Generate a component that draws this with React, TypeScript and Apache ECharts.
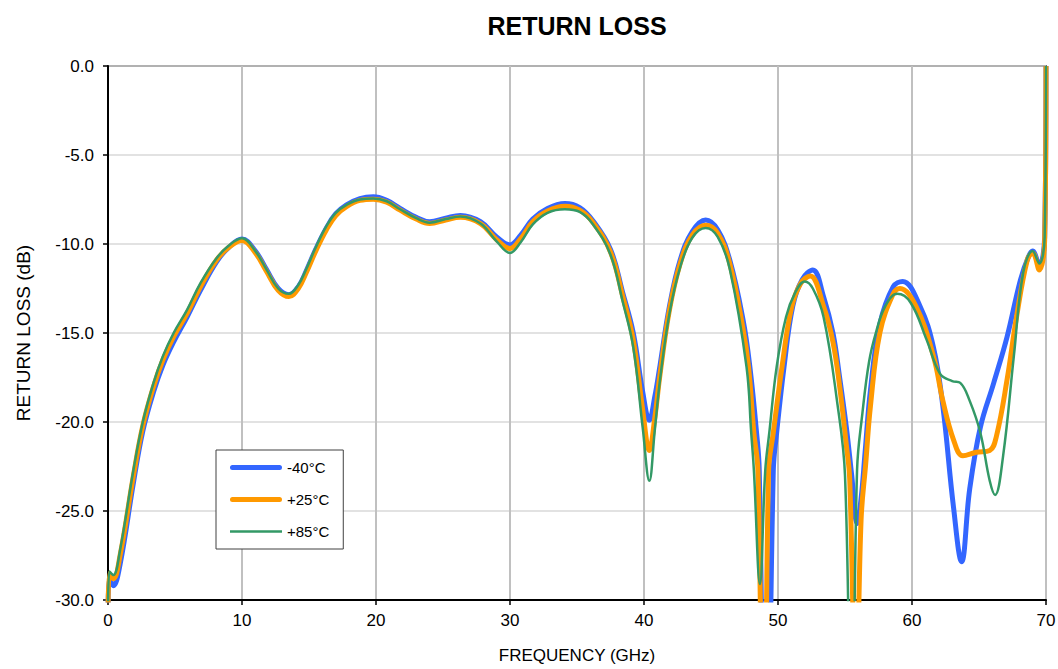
import React, { useEffect, useRef } from "react";
import * as echarts from "echarts";

const seriesNames = ["-40°C", "+25°C", "+85°C"];
const seriesColors = ["#3366FF", "#FF9900", "#339966"];
const xTicks = [0, 10, 20, 30, 40, 50, 60, 70];

const rlMinus40: [number, number][] = [
  [0, -31], [0.1, -28.7], [0.4, -29.2], [0.9, -28.0], [1.9, -23.4], [2.6, -20.5], [3.4, -18.3],
  [4.1, -16.8], [4.9, -15.5], [5.9, -14.1], [6.9, -12.6], [8.1, -11.0], [9.0, -10.2], [10.0, -9.72],
  [11.0, -10.4], [11.8, -11.4], [12.7, -12.5], [13.5, -12.85], [14.2, -12.4], [14.8, -11.5],
  [15.5, -10.3], [16.3, -9.1], [17.0, -8.3], [17.8, -7.8], [18.8, -7.45], [19.8, -7.35], [20.8, -7.55],
  [21.8, -8.0], [23.0, -8.5], [24.0, -8.75], [25.2, -8.55], [26.3, -8.4], [27.8, -8.75], [29.0, -9.6],
  [30.0, -10.05], [30.8, -9.5], [31.7, -8.6], [32.8, -8.0], [34.1, -7.72], [35.2, -7.95], [36.2, -8.7],
  [37.5, -10.3], [38.4, -12.7], [39.2, -15.0], [39.9, -18.3], [40.4, -19.9], [40.8, -18.6], [41.2, -16.8],
  [41.9, -13.5], [42.7, -10.9], [43.6, -9.3], [44.6, -8.65], [45.5, -9.2], [46.4, -10.9], [47.4, -14.3],
  [47.9, -16.9], [48.4, -20.6], [48.6, -22.7], [49.1, -45], [49.65, -22.7], [49.9, -20.6], [50.45, -16.9],
  [51.1, -13.5], [51.8, -12.0], [52.6, -11.46], [53.4, -12.96], [54.1, -15.0], [54.6, -17.5], [55.1, -20.3],
  [55.5, -23.0], [55.9, -25.7], [56.2, -24.3], [56.5, -21.7], [56.9, -18.2], [57.6, -14.5], [58.6, -12.4],
  [59.3, -12.1], [60.6, -13.5], [61.6, -15.8], [62.3, -19.1], [63.1, -24.8], [63.7, -27.85], [64.3, -23.8],
  [65.1, -20.3], [66.1, -17.8], [67.1, -15.2], [68.1, -12.0], [68.7, -10.7], [69.0, -10.4], [69.5, -11.2],
  [69.9, -9.6], [70, 0],
];

const rlPlus25: [number, number][] = [
  [0, -31], [0.1, -28.5], [0.4, -28.8], [0.9, -27.5], [1.9, -23.0], [2.6, -20.2], [3.4, -18.0],
  [4.1, -16.5], [4.9, -15.2], [5.9, -13.9], [6.9, -12.4], [8.1, -10.9], [9.0, -10.2], [10.0, -9.8],
  [11.0, -10.5], [11.8, -11.5], [12.7, -12.6], [13.5, -12.95], [14.2, -12.5], [14.8, -11.6],
  [15.5, -10.4], [16.3, -9.2], [17.0, -8.4], [17.8, -7.9], [18.8, -7.55], [19.8, -7.48], [20.8, -7.65],
  [21.8, -8.1], [23.0, -8.6], [24.0, -8.85], [25.2, -8.65], [26.3, -8.5], [27.8, -8.85], [29.0, -9.75],
  [30.0, -10.25], [30.8, -9.7], [31.7, -8.75], [32.8, -8.15], [34.1, -7.88], [35.2, -8.1], [36.2, -8.8],
  [37.5, -10.45], [38.4, -12.9], [39.2, -15.4], [39.9, -19.3], [40.4, -21.6], [40.8, -19.8], [41.2, -17.3],
  [41.9, -13.7], [42.7, -11.1], [43.6, -9.5], [44.6, -8.95], [45.5, -9.4], [46.4, -11.1], [47.4, -14.8],
  [47.8, -16.9], [48.2, -20.6], [48.5, -22.7], [48.95, -42], [49.3, -22.7], [49.65, -20.6], [50.3, -16.9],
  [51.0, -13.6], [51.7, -12.2], [52.4, -11.8], [53.4, -13.5], [54.1, -15.5], [54.6, -18.0], [55.1, -21.3],
  [55.35, -23.2], [55.82, -36], [56.2, -25.5], [56.55, -22.3], [56.9, -19.1], [57.6, -15.0], [58.6, -12.8],
  [59.1, -12.5], [60.3, -13.5], [61.6, -16.3], [62.3, -18.8], [63.1, -21.0], [63.8, -21.9], [64.8, -21.7],
  [65.8, -21.6], [66.3, -20.8], [67.1, -17.6], [67.8, -14.1], [68.6, -10.9], [69.0, -10.5], [69.5, -11.46],
  [69.9, -9.8], [70, 0],
];

const rlPlus85: [number, number][] = [
  [0, -31], [0.1, -28.4], [0.4, -28.6], [0.9, -27.2], [1.9, -22.7], [2.6, -20.0], [3.4, -17.8],
  [4.1, -16.3], [4.9, -15.0], [5.9, -13.7], [6.9, -12.2], [8.1, -10.8], [9.0, -10.1], [10.0, -9.68],
  [11.0, -10.4], [11.8, -11.4], [12.7, -12.5], [13.5, -12.8], [14.2, -12.3], [14.8, -11.4],
  [15.5, -10.2], [16.3, -9.0], [17.0, -8.25], [17.8, -7.8], [18.8, -7.5], [19.8, -7.45], [20.8, -7.6],
  [21.8, -8.05], [23.0, -8.55], [24.0, -8.8], [25.2, -8.6], [26.3, -8.45], [27.8, -8.85], [29.0, -9.85],
  [30.0, -10.5], [30.8, -9.9], [31.7, -8.9], [32.8, -8.25], [34.1, -8.05], [35.2, -8.2], [36.2, -8.9],
  [37.5, -10.6], [38.4, -13.2], [39.2, -15.8], [39.9, -20.3], [40.4, -23.3], [40.8, -20.5], [41.2, -17.6],
  [41.9, -13.9], [42.7, -11.3], [43.6, -9.65], [44.6, -9.1], [45.5, -9.6], [46.4, -11.4], [47.65, -16.9],
  [48.0, -20.6], [48.2, -22.7], [48.65, -29.1], [49.05, -22.7], [49.35, -20.6], [49.9, -16.9], [50.6, -14.1],
  [51.3, -12.7], [52.0, -12.1], [52.6, -12.5], [53.4, -14.1], [54.4, -18.8], [55.0, -23.0], [55.5, -40],
  [55.9, -22.7], [56.3, -19.5], [56.8, -16.6], [57.3, -15.0], [58.0, -13.5], [58.9, -12.8], [59.9, -13.3],
  [61.1, -15.4], [62.1, -17.3], [63.0, -17.7], [63.6, -17.8], [64.3, -18.8], [65.1, -20.6], [65.8, -23.3],
  [66.2, -24.1], [66.8, -21.9], [67.6, -16.3], [68.3, -11.6], [69.0, -10.4], [69.5, -11.1], [69.9, -9.6],
  [70, 0],
];

const seriesData = [rlMinus40, rlPlus25, rlPlus85];
const lineWidths = [5, 5, 2.5];
const legendIcons = [
  "path://M2.5,0h47a2.5,2.5,0,0,1,0,5h-47a2.5,2.5,0,0,1,0,-5z",
  "path://M2.5,0h47a2.5,2.5,0,0,1,0,5h-47a2.5,2.5,0,0,1,0,-5z",
  "path://M0,0h52v2.5h-52z",
];

const FONT = "'Liberation Sans', Arial, sans-serif";

export default function App() {
  const ref = useRef<HTMLDivElement>(null);
  useEffect(() => {
    if (!ref.current) return;
    const chart = echarts.init(ref.current, null, { renderer: "svg" });
    chart.setOption({
      animation: false,
      backgroundColor: "#ffffff",
      title: {
        text: "RETURN LOSS",
        left: 572,
        textAlign: "center",
        top: 8,
        textStyle: { fontFamily: FONT, fontSize: 25, fontWeight: "bold", color: "#000" },
      },
      legend: {
        orient: "vertical",
        left: 216,
        top: 450,
        padding: [10, 14, 10, 14],
        itemWidth: 52,
        itemHeight: 14,
        itemGap: 17,
        backgroundColor: "#fff",
        borderColor: "#404040",
        borderWidth: 1,
        data: seriesNames.map((name, i) => ({
          name,
          icon: legendIcons[i],
          itemStyle: { color: seriesColors[i] },
        })),
        textStyle: { fontFamily: FONT, fontSize: 15, color: "#000" },
      },
      grid: {
        left: 108,
        right: 12,
        top: 66,
        bottom: 69,
        show: true,
        borderColor: "#000",
        borderWidth: 1.5,
        outerBoundsMode: "none",
        containLabel: false,
      },
      xAxis: {
        type: "value",
        min: 0,
        max: 70,
        interval: 10,
        name: "FREQUENCY (GHz)",
        nameLocation: "middle",
        nameGap: 47,
        nameTextStyle: { fontFamily: FONT, fontSize: 17, color: "#000" },
        axisLine: { onZero: false, lineStyle: { color: "#000", width: 2 } },
        axisTick: { show: true, length: 5, lineStyle: { color: "#000", width: 1.5 } },
        axisLabel: {
          fontFamily: FONT,
          fontSize: 17,
          color: "#000",
          margin: 12,
          formatter: (v: number) => (xTicks.includes(v) ? String(v) : ""),
        },
        splitLine: { show: true, lineStyle: { color: "#c0c0c0", width: 2 } },
      },
      yAxis: {
        type: "value",
        min: -30,
        max: 0,
        interval: 5,
        name: "RETURN LOSS (dB)",
        nameLocation: "middle",
        nameGap: 75,
        nameTextStyle: { fontFamily: FONT, fontSize: 19, color: "#000" },
        axisLine: { onZero: false, lineStyle: { color: "#000", width: 2 } },
        axisTick: { show: true, length: 5, lineStyle: { color: "#000", width: 1.5 } },
        axisLabel: {
          fontFamily: FONT,
          fontSize: 17,
          color: "#000",
          margin: 14,
          formatter: (v: number) => v.toFixed(1),
        },
        splitLine: { show: true, lineStyle: { color: "#d9d9d9", width: 1.5 } },
      },
      series: seriesNames.map((name, i) => ({
        name,
        type: "line",
        data: seriesData[i],
        showSymbol: false,
        symbol: "none",
        smooth: 0.4,
        clip: true,
        color: seriesColors[i],
        lineStyle: { color: seriesColors[i], width: lineWidths[i] },
        z: 2 + i,
      })),
    });
    return () => chart.dispose();
  }, []);
  return (
    <div
      ref={ref}
      style={{ position: "fixed", left: 0, top: 0, width: 1058, height: 669 }}
    />
  );
}
